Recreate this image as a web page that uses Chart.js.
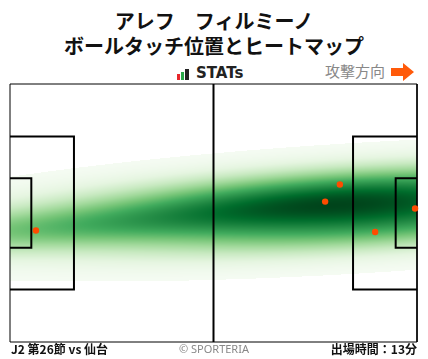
<!DOCTYPE html>
<html>
<head>
<meta charset="utf-8">
<script src="https://cdn.jsdelivr.net/npm/chart.js@4.4.1/dist/chart.umd.min.js"></script>
<style>
  body { margin: 0; background: #fff; }
  #page { position: relative; width: 428px; height: 359px; overflow: hidden; font-family: "Noto Sans CJK JP", "Noto Sans", sans-serif; }
  .title { position: absolute; left: 0; top: 8px; width: 428px; text-align: center; font-size: 20px; font-weight: bold; line-height: 25px; color: #111; }
  .bar { position: absolute; width: 3px; bottom: 279px; }
  .stats { position: absolute; left: 196px; top: 64px; font-family: "DejaVu Sans", sans-serif; font-weight: bold; font-size: 15px; line-height: 18px; color: #222; }
  .dir { position: absolute; left: 325px; top: 61px; font-size: 15px; color: #888; line-height: 20px; }
  .arrow { position: absolute; left: 390px; top: 63px; }
  .foot { position: absolute; top: 341px; font-size: 12px; line-height: 16px; font-weight: bold; color: #111; }
  #wrap { position: absolute; left: 0; top: 74px; width: 428px; height: 278px; }
</style>
</head>
<body>
<div id="page">
  <div class="title">アレフ　フィルミーノ<br>ボールタッチ位置とヒートマップ</div>
  <i class="bar" style="left:177px;height:6px;background:#e8262b"></i>
  <i class="bar" style="left:181px;height:8px;background:#2aa84a"></i>
  <i class="bar" style="left:185px;width:4px;height:11px;background:#222"></i>
  <div class="stats">STATs</div>
  <div class="dir">攻撃方向</div>
  <svg class="arrow" width="26" height="18" viewBox="0 0 26 18">
    <polygon points="1,5 13,5 13,0 24,9 13,18 13,13 1,13" fill="#ff5a0a"/>
  </svg>
  <div id="wrap"><canvas id="chart" width="428" height="278"></canvas></div>
  <div class="foot" style="left:11px">J2 第26節 vs 仙台</div>
  <div class="foot" style="left:0;width:428px;text-align:center;font-weight:normal;color:#888;font-size:11px;font-family:'Noto Sans',sans-serif">© SPORTERIA</div>
  <div class="foot" style="right:11px">出場時間：13分</div>
</div>
<script>
// pitch in metres, attack to the right
const pitchLength = 105;
const pitchWidth = 68;

// ball touches (x along pitch, y from top touchline)
const touchX = [6.7, 85.1, 81.3, 94.2, 104.5];
const touchY = [38.6, 26.5, 31.0, 39.0, 32.8];

// Greens colour ramp
const greens = ['#f7fcf5', '#e5f5e0', '#c7e9c0', '#a1d99b', '#74c476', '#41ab5d', '#238b45', '#006d2c', '#00441b'];

// kde smoothing: extra stretch along / across the pitch, lowest shaded level
const stretchX = 1.5;
const stretchY = 1.25;
const lowest = 0.015;

const PA_D = 16.5, PA_W = 40.32, GA_D = 5.5, GA_W = 18.32;

function box(x0, depth, w) {
  const y0 = (pitchWidth - w) / 2, y1 = y0 + w;
  return [{x: x0, y: y0}, {x: x0 + depth, y: y0}, {x: x0 + depth, y: y1}, {x: x0, y: y1}];
}

function lineSet(data, width) {
  return {
    data, showLine: true, borderColor: '#000', borderWidth: width,
    pointRadius: 0, fill: false, tension: 0, clip: false, order: 2
  };
}

function hexRgb(h) {
  return [parseInt(h.slice(1, 3), 16), parseInt(h.slice(3, 5), 16), parseInt(h.slice(5, 7), 16)];
}
const ramp = greens.map(hexRgb);
function colour(t) {
  const p = Math.min(0.9999, t) * (ramp.length - 1), i = Math.floor(p), f = p - i;
  return ramp[i].map((c, k) => Math.round(c + (ramp[i + 1][k] - c) * f));
}

// gaussian kde, scott bandwidth with full covariance
const heatmap = {
  id: 'heatmap',
  beforeDatasetsDraw(chart) {
    const {ctx, chartArea: a, scales: {x, y}} = chart;
    const n = touchX.length;
    const mx = touchX.reduce((s, v) => s + v, 0) / n;
    const my = touchY.reduce((s, v) => s + v, 0) / n;
    let sxx = 0, syy = 0, sxy = 0;
    for (let i = 0; i < n; i++) {
      sxx += (touchX[i] - mx) ** 2;
      syy += (touchY[i] - my) ** 2;
      sxy += (touchX[i] - mx) * (touchY[i] - my);
    }
    const f2 = Math.pow(n, -1 / 3);
    const cxx = sxx / (n - 1) * f2 * stretchX * stretchX;
    const cyy = syy / (n - 1) * f2 * stretchY * stretchY;
    const cxy = sxy / (n - 1) * f2 * Math.pow(stretchX, 1.7) * stretchY;
    const det = cxx * cyy - cxy * cxy;
    const ixx = cyy / det, iyy = cxx / det, ixy = -cxy / det;

    const w = Math.round(a.right - a.left), h = Math.round(a.bottom - a.top);
    const dens = new Float32Array(w * h);
    let max = 0;
    for (let j = 0; j < h; j++) {
      const vy = y.getValueForPixel(a.top + j + 0.5);
      for (let i = 0; i < w; i++) {
        const vx = x.getValueForPixel(a.left + i + 0.5);
        let d = 0;
        for (let k = 0; k < n; k++) {
          const dx = vx - touchX[k], dy = vy - touchY[k];
          d += Math.exp(-0.5 * (ixx * dx * dx + 2 * ixy * dx * dy + iyy * dy * dy));
        }
        dens[j * w + i] = d;
        if (d > max) max = d;
      }
    }
    const off = document.createElement('canvas');
    off.width = w; off.height = h;
    const octx = off.getContext('2d');
    const img = octx.createImageData(w, h);
    for (let p = 0; p < w * h; p++) {
      const t = dens[p] / max;
      if (t < lowest) continue;
      const c = colour(t);
      img.data[p * 4] = c[0]; img.data[p * 4 + 1] = c[1]; img.data[p * 4 + 2] = c[2]; img.data[p * 4 + 3] = 255;
    }
    octx.putImageData(img, 0, 0);
    ctx.drawImage(off, a.left, a.top);
  }
};

const L = pitchLength, W = pitchWidth;
new Chart(document.getElementById('chart'), {
  type: 'scatter',
  data: {
    datasets: [
      {
        data: touchX.map((v, i) => ({x: v, y: touchY[i]})),
        pointRadius: 3.2, pointBackgroundColor: '#ff4b00', pointBorderWidth: 0,
        clip: false, order: 0
      },
      lineSet([{x: 0, y: 0}, {x: L, y: 0}, {x: L, y: W}, {x: 0, y: W}, {x: 0, y: 0}], 1),
      lineSet([{x: L / 2, y: 0}, {x: L / 2, y: W}], 2),
      lineSet(box(0, PA_D, PA_W), 2),
      lineSet(box(0, GA_D, GA_W), 2),
      lineSet(box(L, -PA_D, PA_W), 2),
      lineSet(box(L, -GA_D, GA_W), 2)
    ]
  },
  options: {
    responsive: false,
    animation: false,
    devicePixelRatio: 1,
    layout: {padding: {left: 10, right: 11, top: 10, bottom: 10}},
    scales: {
      x: {type: 'linear', min: 0, max: L, display: false},
      y: {type: 'linear', min: 0, max: W, reverse: true, display: false}
    },
    plugins: {legend: {display: false}, tooltip: {enabled: false}}
  },
  plugins: [heatmap]
});
</script>
</body>
</html>
